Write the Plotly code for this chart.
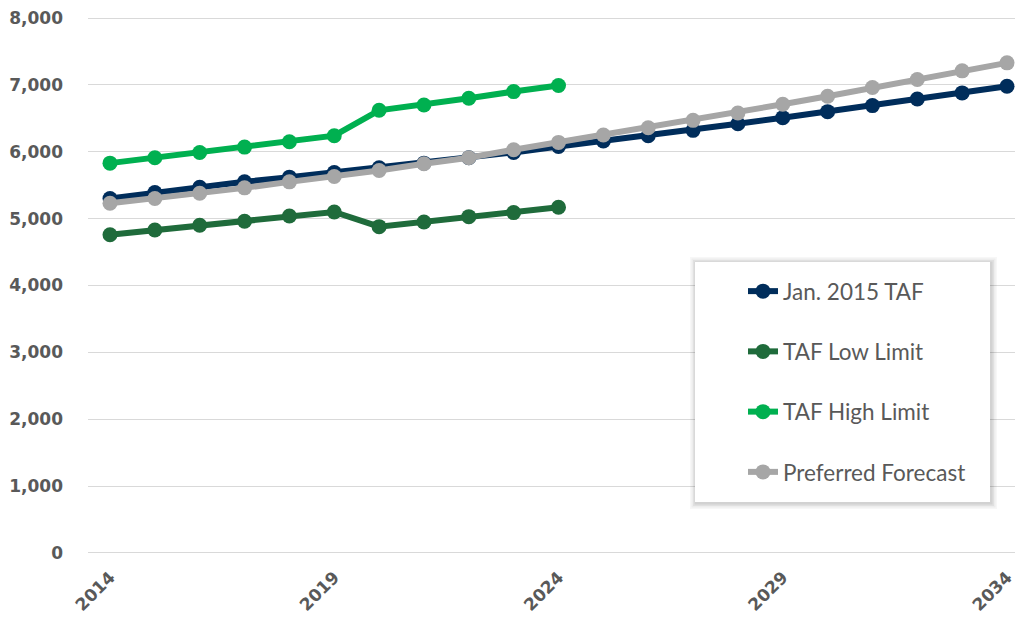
import plotly.graph_objects as go

years_full = list(range(2014, 2035))
years_taf = list(range(2014, 2025))

jan_2015_taf = [5300, 5390, 5470, 5550, 5620, 5690, 5760, 5830, 5910, 5990, 6080,
                6160, 6240, 6320, 6420, 6510, 6600, 6690, 6790, 6880, 6980]
taf_low = [4760, 4830, 4900, 4960, 5040, 5100, 4880, 4950, 5030, 5090, 5170]
taf_high = [5830, 5910, 5990, 6070, 6150, 6240, 6620, 6700, 6800, 6900, 6990]
preferred = [5230, 5300, 5380, 5460, 5550, 5630, 5720, 5820, 5910, 6030, 6140,
             6250, 6360, 6470, 6580, 6710, 6830, 6960, 7080, 7210, 7330]

x_ticks = [2014, 2019, 2024, 2029, 2034]
y_ticks = [0, 1000, 2000, 3000, 4000, 5000, 6000, 7000, 8000]

series = [
    ("Jan. 2015 TAF", years_full, jan_2015_taf, "#002D5B"),
    ("TAF Low Limit", years_taf, taf_low, "#1F6B3B"),
    ("TAF High Limit", years_taf, taf_high, "#00B050"),
    ("Preferred Forecast", years_full, preferred, "#A6A6A6"),
]

fig = go.Figure()
for i, (name, xs, ys, col) in enumerate(series):
    fig.add_trace(go.Scatter(
        x=xs, y=ys, name=name, mode="lines+markers",
        line=dict(color=col, width=6),
        marker=dict(color=col, size=15),
        legendgroup=f"g{i}",
    ))

# plot area: y=0 at 553px, y=8000 at 18px; padded by 120 units (~8px) each side
L, R, T, B = 88, 5, 10, 62
W, H = 1020, 623
pw = W - L - R
ph = H - T - B

def px_to_paper_x(px):
    return (px - L) / pw

def px_to_paper_y(py):
    return (H - B - py) / ph

# legend box with soft shadow
bx0, bx1, by0, by1 = 695, 990, 262, 502
for off, op in [(6, 0.03), (4.5, 0.04), (3, 0.05), (1.5, 0.06)]:
    fig.add_shape(type="rect", xref="paper", yref="paper",
                  x0=px_to_paper_x(bx0 - off + 1), x1=px_to_paper_x(bx1 + off + 1),
                  y0=px_to_paper_y(by1 + off + 1), y1=px_to_paper_y(by0 - off + 1),
                  fillcolor=f"rgba(0,0,0,{op})", line=dict(width=0), layer="above")
fig.add_shape(type="rect", xref="paper", yref="paper",
              x0=px_to_paper_x(bx0), x1=px_to_paper_x(bx1),
              y0=px_to_paper_y(by1), y1=px_to_paper_y(by0),
              fillcolor="white", line=dict(width=0), layer="above")

tick_font = dict(family="DejaVu Sans", size=17, color="#595959", weight="bold")

fig.update_layout(
    width=W, height=H,
    margin=dict(l=L, r=R, t=T, b=B),
    paper_bgcolor="white", plot_bgcolor="white",
    showlegend=True,
    legend=dict(
        x=px_to_paper_x(743), y=px_to_paper_y(270), xanchor="left", yanchor="top",
        bgcolor="rgba(0,0,0,0)", borderwidth=0,
        font=dict(family="Lato", size=22.5, color="#595959"),
        traceorder="grouped", tracegroupgap=28,
    ),
    xaxis=dict(
        range=[2014 - 22 / 44.85, 2034 + 8 / 44.85],
        tickvals=x_ticks, ticktext=[str(v) for v in x_ticks],
        tickangle=-45, tickfont=tick_font,
        showgrid=False, zeroline=False, showline=False, ticks="",
        ticklabelstandoff=2,
    ),
    yaxis=dict(
        range=[-120, 8120], tickvals=y_ticks,
        ticktext=[f"{v:,}" for v in y_ticks],
        tickfont=tick_font, showgrid=True, gridcolor="#D9D9D9", gridwidth=1,
        zeroline=False, showline=False, ticks="", ticklabelstandoff=24,
    ),
)

fig.write_html("out.html")
